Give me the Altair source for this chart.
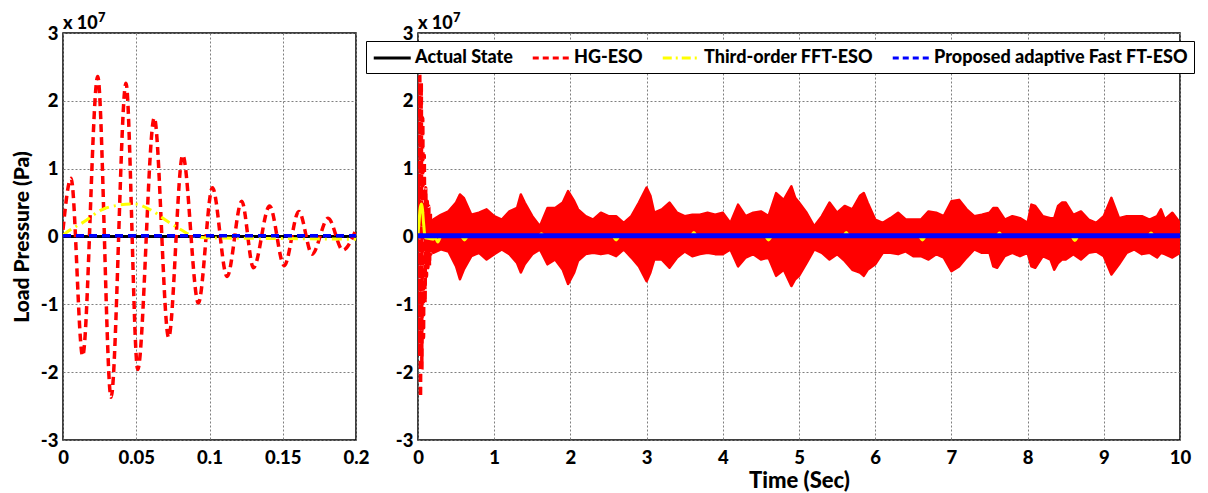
import altair as alt
import pandas as pd

# ---------------- data (values in units of 10^7 Pa) ----------------
SERIES = ["Actual State", "HG-ESO", "Third-order FFT-ESO", "Proposed adaptive Fast FT-ESO"]
COLORS = ["#000000", "#ff0000", "#ffff00", "#0000ff"]
DASHES = [[1, 0], [6, 4], [9, 4, 2, 4], [6, 4]]

# HG-ESO start-up oscillation (extrema)
hg_t = [0, 0.0055, 0.0134, 0.0237, 0.0328, 0.043, 0.051, 0.0623, 0.0721, 0.0817, 0.0924,
        0.102, 0.112, 0.122, 0.130, 0.141, 0.151, 0.161, 0.170, 0.181, 0.191, 0.2]
hg_v = [0.1, 0.86, -1.76, 2.36, -2.37, 2.26, -1.96, 1.75, -1.49, 1.2, -0.98,
        0.72, -0.59, 0.52, -0.46, 0.45, -0.43, 0.37, -0.26, 0.27, -0.2, 0.1]

# Third-order FFT-ESO (left panel)
fft_t = [0, 0.003, 0.0146, 0.026, 0.0373, 0.0487, 0.06, 0.0715, 0.0806, 0.0885, 0.1, 0.15, 0.2]
fft_v = [0.02, 0.07, 0.22, 0.39, 0.46, 0.48, 0.39, 0.22, 0.1, 0.01, -0.02, -0.03, -0.04]

# Third-order FFT-ESO small blips after start-up (right panel)
fft_blip_t = [0.22, 0.26, 0.30, 0.57, 0.61, 0.65, 1.58, 1.62, 1.66, 2.56, 2.60, 2.64,
              3.58, 3.62, 3.66, 4.56, 4.60, 4.64, 5.58, 5.62, 5.66, 6.58, 6.62, 6.66,
              7.59, 7.63, 7.67, 8.58, 8.62, 8.66, 9.58, 9.62, 9.66, 10.0]
fft_blip_v = [0.0, -0.08, 0.0, 0.0, -0.05, 0.0, 0.0, 0.04, 0.0, 0.0, -0.05, 0.0,
              0.0, 0.06, 0.0, 0.0, -0.05, 0.0, 0.0, 0.06, 0.0, 0.0, -0.05, 0.0,
              0.0, 0.05, 0.0, 0.0, -0.06, 0.0, 0.0, 0.05, 0.0, 0.0]

# HG-ESO steady-state band (upper / lower envelope, right panel)
band_t = [0.2, 0.3, 0.4, 0.5, 0.55, 0.6, 0.7, 0.8, 0.9,
          1.0, 1.1, 1.2, 1.3, 1.35, 1.4, 1.5, 1.6, 1.7, 1.8, 1.9,
          1.97, 2.05, 2.1, 2.2, 2.3, 2.4, 2.5, 2.6, 2.7, 2.8, 2.9,
          3.0, 3.05, 3.1, 3.2, 3.3, 3.4, 3.5, 3.6, 3.7, 3.8, 3.9,
          4.0, 4.1, 4.2, 4.3, 4.4, 4.5, 4.6, 4.7, 4.8, 4.9, 4.95,
          5.0, 5.1, 5.2, 5.3, 5.4, 5.5, 5.6, 5.7, 5.8, 5.85, 5.9,
          6.0, 6.1, 6.2, 6.3, 6.4, 6.5, 6.6, 6.7, 6.8, 6.9,
          7.0, 7.1, 7.2, 7.3, 7.4, 7.5, 7.55, 7.6, 7.7, 7.8, 7.9,
          8.0, 8.05, 8.1, 8.2, 8.3, 8.35, 8.4, 8.45, 8.5, 8.6, 8.7, 8.8, 8.9,
          9.0, 9.1, 9.2, 9.3, 9.4, 9.5, 9.6, 9.7, 9.75, 9.8, 9.9, 10.0]
band_hi = [0.25, 0.32, 0.37, 0.5, 0.62, 0.57, 0.32, 0.35, 0.4,
           0.3, 0.25, 0.37, 0.42, 0.62, 0.5, 0.3, 0.15, 0.42, 0.42, 0.5,
           0.67, 0.52, 0.4, 0.3, 0.25, 0.35, 0.3, 0.3, 0.2, 0.3, 0.5,
           0.72, 0.6, 0.35, 0.4, 0.5, 0.35, 0.3, 0.32, 0.32, 0.35, 0.32,
           0.35, 0.2, 0.47, 0.3, 0.35, 0.37, 0.3, 0.64, 0.54, 0.74, 0.57,
           0.5, 0.35, 0.15, 0.3, 0.5, 0.35, 0.45, 0.4, 0.6, 0.64, 0.5,
           0.25, 0.2, 0.27, 0.35, 0.25, 0.25, 0.25, 0.37, 0.35, 0.3,
           0.52, 0.54, 0.4, 0.3, 0.32, 0.35, 0.42, 0.42, 0.25, 0.3, 0.27,
           0.2, 0.47, 0.45, 0.3, 0.27, 0.27, 0.45, 0.5, 0.5, 0.32, 0.37, 0.25, 0.2,
           0.3, 0.57, 0.27, 0.3, 0.3, 0.3, 0.25, 0.3, 0.4, 0.25, 0.35, 0.2]
band_lo = [-0.24, -0.19, -0.22, -0.44, -0.63, -0.49, -0.29, -0.24, -0.34,
           -0.26, -0.19, -0.26, -0.39, -0.53, -0.41, -0.26, -0.19, -0.41, -0.34, -0.49,
           -0.7, -0.53, -0.36, -0.26, -0.24, -0.26, -0.24, -0.29, -0.19, -0.31, -0.44,
           -0.66, -0.53, -0.34, -0.34, -0.46, -0.31, -0.22, -0.29, -0.26, -0.24, -0.26,
           -0.26, -0.19, -0.44, -0.31, -0.26, -0.34, -0.31, -0.58, -0.49, -0.73, -0.63,
           -0.58, -0.39, -0.19, -0.24, -0.34, -0.26, -0.36, -0.49, -0.53, -0.58, -0.49,
           -0.41, -0.24, -0.24, -0.26, -0.22, -0.29, -0.29, -0.34, -0.26, -0.31,
           -0.51, -0.44, -0.31, -0.19, -0.24, -0.24, -0.44, -0.46, -0.29, -0.24, -0.29,
           -0.24, -0.44, -0.46, -0.29, -0.34, -0.49, -0.39, -0.34, -0.34, -0.26, -0.34, -0.24, -0.22,
           -0.29, -0.56, -0.41, -0.24, -0.19, -0.26, -0.24, -0.31, -0.24, -0.26, -0.31, -0.24]

actual_level = 0.0
proposed_level = 0.01

y_ticks = [-3, -2, -1, 0, 1, 2, 3]
x_ticks_left = [0, 0.05, 0.1, 0.15, 0.2]
x_ticks_right = [0, 1, 2, 3, 4, 5, 6, 7, 8, 9, 10]

FONT = "Lato"
WEIGHT = 900


def df(t, v):
    return pd.DataFrame({"t": t, "v": v})


def xenc(domain, ticks, title):
    kw = dict(values=ticks, labelExpr="'' + datum.value", labelFlush=False,
              labelOverlap=False, labelPadding=8, titlePadding=4, titleFontSize=22)
    kw["title"] = title if title else None
    return alt.X("t:Q", scale=alt.Scale(domain=domain, nice=False, zero=False),
                 axis=alt.Axis(**kw))


def yenc(title, field="v"):
    kw = dict(values=y_ticks, labelExpr="datum.value < 0 ? '-' + abs(datum.value) : '' + datum.value",
              labelFlush=False, labelOverlap=False, labelPadding=5, titlePadding=8)
    kw["title"] = title if title else None
    return alt.Y(f"{field}:Q", scale=alt.Scale(domain=[-3, 3], nice=False), axis=alt.Axis(**kw))


def exponent_layers():
    base = alt.Chart(pd.DataFrame({"s": ["x 10"]})).mark_text(
        font=FONT, fontSize=18, fontWeight=WEIGHT, align="left", baseline="alphabetic", color="black"
    ).encode(x=alt.value(0), y=alt.value(-4), text="s:N")
    sup = alt.Chart(pd.DataFrame({"s": ["7"]})).mark_text(
        font=FONT, fontSize=13, fontWeight=WEIGHT, align="left", baseline="alphabetic", color="black"
    ).encode(x=alt.value(35), y=alt.value(-11), text="s:N")
    return [base, sup]


# ---------------- left panel ----------------
xl = xenc([0, 0.2], x_ticks_left, None)
yl = yenc("Load Pressure (Pa)")

left_actual = alt.Chart(df([0, 0.2], [actual_level, actual_level])).mark_line(
    color="#000000", strokeWidth=3, clip=True).encode(x=xl, y=yl)
left_hg = alt.Chart(df(hg_t, hg_v)).mark_line(
    color="#ff0000", strokeWidth=3.5, strokeDash=[8, 5], interpolate="monotone", clip=True
).encode(x=xl, y=yl)
left_fft = alt.Chart(df(fft_t, fft_v)).mark_line(
    color="#ffff00", strokeWidth=3, strokeDash=[10, 5, 2, 5], interpolate="monotone", clip=True
).encode(x=xl, y=yl)
left_prop = alt.Chart(df([0, 0.2], [proposed_level, proposed_level])).mark_line(
    color="#0000ff", strokeWidth=3.5, strokeDash=[8, 5], clip=True).encode(x=xl, y=yl)

left = alt.layer(left_actual, left_hg, left_fft, left_prop, *exponent_layers()).properties(
    width=293, height=407)

# ---------------- right panel ----------------
xr = xenc([0, 10], x_ticks_right, "Time (Sec)")
yr = yenc(None)

band = alt.Chart(pd.DataFrame({"t": band_t, "hi": band_hi, "lo": band_lo})).mark_area(
    color="#ff0000", stroke="#ff0000", strokeWidth=2.5, strokeJoin="round", opacity=1, clip=True
).encode(x=xr, y=yenc(None, "hi"), y2="lo:Q")
right_hg = alt.Chart(df(hg_t, hg_v)).mark_line(
    color="#ff0000", strokeWidth=3.5, strokeDash=[8, 5], interpolate="monotone", clip=True
).encode(x=xr, y=yr)
right_fft = alt.Chart(df(fft_t + fft_blip_t, fft_v + fft_blip_v)).mark_line(
    color="#ffff00", strokeWidth=3, interpolate="monotone", clip=True
).encode(x=xr, y=yr)

# legend symbol: a horizontal stroke, long but with a short bounding box
legend_kw = dict(orient="none", legendX=-52, legendY=8, direction="horizontal", columns=4,
                 title=None, labelFont=FONT, labelFontSize=18, labelFontWeight=WEIGHT,
                 labelColor="black", labelLimit=500, symbolType="M-1,0H3", symbolSize=342,
                 symbolStrokeWidth=3, labelOffset=21, columnPadding=13, padding=6,
                 strokeColor="black", fillColor="white")

leg_df = pd.DataFrame({"t": [0, 10, 0, 10],
                       "v": [actual_level, actual_level, proposed_level, proposed_level],
                       "series": [SERIES[0], SERIES[0], SERIES[3], SERIES[3]]})
right_lines = alt.Chart(leg_df).mark_line(strokeWidth=3, clip=True).encode(
    x=xr, y=yr,
    color=alt.Color("series:N", scale=alt.Scale(domain=SERIES, range=COLORS),
                    legend=alt.Legend(**legend_kw)),
    strokeDash=alt.StrokeDash("series:N", scale=alt.Scale(domain=SERIES, range=DASHES),
                              legend=alt.Legend(**legend_kw)),
)
right_prop = alt.Chart(df([0, 10], [proposed_level, proposed_level])).mark_line(
    color="#0000ff", strokeWidth=5, clip=True).encode(x=xr, y=yr)

right = alt.layer(band, right_hg, right_fft, right_lines, right_prop, *exponent_layers()).properties(
    width=762, height=407)

chart = alt.hconcat(left, right, spacing=62, bounds="flush").resolve_scale(
    color="independent", strokeDash="independent"
).properties(
    padding={"left": 2, "top": 3, "right": 0, "bottom": 0}
).configure_view(stroke="black", strokeWidth=1.5).configure_axis(
    labelFont=FONT, labelFontSize=18.5, labelFontWeight=WEIGHT, labelColor="black",
    titleFont=FONT, titleFontSize=21, titleFontWeight=WEIGHT, titleColor="black",
    ticks=False, domain=False, grid=True, gridColor="#7f7f7f", gridDash=[2, 2], gridOpacity=1
)

chart.save("out.html", embed_options={"renderer": "svg", "actions": False})
